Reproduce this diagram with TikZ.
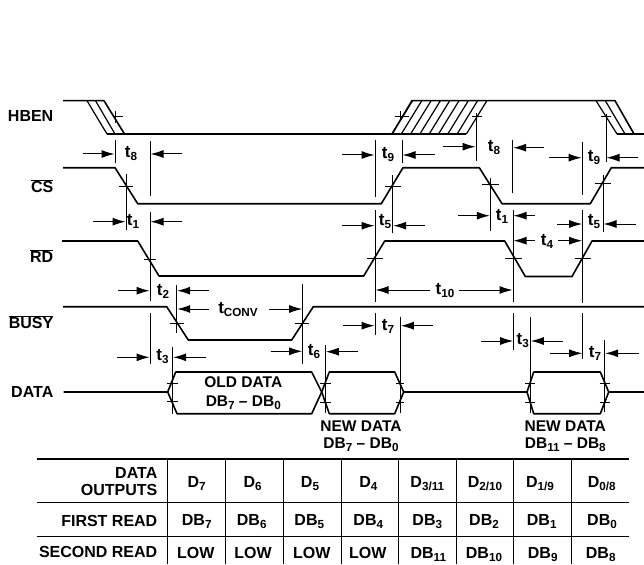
\documentclass[tikz,border=0pt]{standalone}
\usepackage{fontspec}
\setmainfont{Liberation Sans}
\usetikzlibrary{arrows.meta}
\newcommand{\lowtext}[1]{\raisebox{-3pt}{\fontsize{11.7}{12}\selectfont #1}}
\newcommand{\tname}[1]{{\fontsize{17}{18}\selectfont t}\lowtext{#1}}
\newcommand{\dbname}[1]{DB\lowtext{#1}}
\newcommand{\dname}[1]{D\lowtext{#1}}
\newcommand{\negated}[1]{$\overline{\mbox{#1}}$}
\tikzset{
	wave/.style={line width=1.6pt,line join=round},
	hatch/.style={line width=1.2pt},
	mark line/.style={line width=1pt},
	dim/.style={line width=1pt,-{Latex[length=13pt,width=8pt]}},
	txt/.style={font=\fontsize{15.5}{17}\selectfont\bfseries,inner sep=0pt},
	sig/.style={font=\fontsize{16}{17}\selectfont\bfseries,inner sep=0pt,anchor=east},
	cell/.style={font=\fontsize{16}{17}\selectfont\bfseries,inner sep=0pt,anchor=base},
	rowhead/.style={font=\fontsize{16}{17.3}\selectfont\bfseries,inner sep=0pt,anchor=east,align=right},
	tablerule/.style={line width=1.5pt}
}
\begin{document}
\begin{tikzpicture}[x=1pt,y=-1pt]
	\useasboundingbox (0,0) rectangle (644,564);
	% signal names
	\node[sig] (hben) at (53.5,116) {HBEN};
	\node[sig] (cs) at (53.5,186) {\negated{CS}};
	\node[sig] (rd) at (53.5,256) {\negated{RD}};
	\node[sig] (busy) at (53.5,322) {\negated{BUSY}};
	\node[sig] (data) at (53.5,392) {DATA};
	%%%%%%%% waves
	\draw[wave] (63,100.7)--(104,100.7)--(124.5,134)--(466,134);
	\draw[wave] (107,134)--(124.5,134);
	\draw[wave] (392,134)--(412,100.7)--(615,100.7)--(634,134)--(644,134);
	\draw[wave] (63,167.7)--(115,167.7)--(137.7,203.7)--(381.3,203.7)--(403,167.7)--(479.3,167.7)--(502,203.7)--(590.3,203.7)--(611.3,167.7)--(644,167.7);
	\draw[wave] (62,241)--(137.7,241)--(159,276)--(363.7,276)--(384.7,241)--(504.7,241)--(525.3,276.5)--(572,276.5)--(592,241)--(644,241);
	\draw[wave] (63,306.7)--(166.7,306.7)--(188.3,340)--(291.7,340)--(313.3,306.7)--(644,306.7);
	\draw[wave] (63.7,392)--(167.7,392)--(175.7,372)--(311.7,372)--(321.7,392)--(311.7,413.7)--(177,413.7)--(167.7,392);
	\draw[wave] (321.7,392)--(329.3,372)--(394.7,372)--(403.7,392)--(394.7,413.7)--(329.3,413.7)--(321.7,392);
	\draw[wave] (403.7,392)--(527,392)--(533.7,372)--(600.3,372)--(608.7,392)--(600.3,413.7)--(533.7,413.7)--(527,392);
	\draw[wave] (608.7,392)--(644,392);
	%%%%%%%% hatching
	\foreach \a/\b in {87/107,95.5/115}
		\draw[hatch] (\a,100.7)--(\b,134);
	\foreach \a in {392,401.3,...,466.5}
		\draw[hatch] (\a,134)--(\a+20.5,100.7);
	\foreach \a/\b in {596/617,605.3/625}
		\draw[hatch] (\a,100.7)--(\b,134);
	\draw[wave] (617,134)--(644,134);
	%%%%%%%% vertical marks
	\foreach \x/\a/\b in {115/140/163,150/141/195.7,126/174/230,150/211.7/301,375/140/196.7,402/140/163,
		476/113/161,512.7/140/193,582/141.7/195,606/114/162,375/210/301.7,392.7/175/233,490.3/178/230.7,
		513/210/302,582.7/210/303,603/175/231.7,176.7/285/333,302.7/284/364,150/312.7/364.3,172.7/347/414,
		325.3/345/413,375/313.3/335,400.3/316.7/413,513.7/313.3/350,530.3/317/413,582.7/312.7/359.3,604.7/340/411.7,
		115/111/123,400.3/111/121}
		\draw[mark line] (\x,\a)--(\x,\b);
	\foreach \x/\y/\w in {126/186.5/7,392.7/186/8,490.3/184/8.5,603/183/8,150/259/6,375.3/258/8,513.7/258.5/8.5,582.7/258.7/8,
		176.7/323.3/7,301.7/323.3/7,172.7/383/5.5,172.7/401/5.5,325.3/383/5.5,325.3/402/5.5,400.3/383/4,400.3/402/4,
		530.3/383/5,530.3/402/5,604.7/383/5,604.7/402/5,477/116.5/5,606/116.5/5,118.2/117/4.5,402/116.5/7.3}
		\draw[mark line] (\x-\w,\y)--(\x+\w,\y);
	%%%%%%%% timing arrows
	\foreach \x/\y/\e in {83/154/114.5,182/154/150.5,93/221.7/125.5,182/221.7/150.5,342/155/374.5,434.7/155/402.5,443/146.7/475.5,544/147.7/513.2,
		549/157.7/581.5,637.7/157.7/606.5,342/225.7/374.5,425/225.7/393.2,458/215.7/489.8,535/215.7/513.5,535/240.7/513.5,558/240.7/582.2,
		557/224/582.2,636/224/603.5,117.7/290.7/149.5,208.7/290.7/177.2,209/309/177.2,269/309/302.2,116.7/357.3/149.5,205.7/357.3/173.2,
		270.7/351.3/302.2,358/351.7/325.8,343/325.7/374.5,432.7/325.7/400.8,481/341/513.2,562.7/341/530.8,549.7/353.3/582.2,638.7/353.3/605.2,
		430/290/375.5,459/290/512.5}
		\draw[dim] (\x,\y)--(\e,\y);
	%%%%%%%% timing names
	\foreach \x/\y/\t/\n in {131/154/8/t8a,133/221/1/t1a,163/291/2/t2,162.5/357/3/t3,314/352/6/t6,388/155/9/t9a,385/222/5/t5a,
		388/326/7/t7a,494/148/8/t8b,502/216/1/t1b,547/241/4/t4,522.7/341/3/t3b,594/158/9/t9b,594/222/5/t5b,595/353/7/t7b,445/291/10/t10}
		\node[txt] (\n) at (\x,\y) {\tname{\t}};
	\node[txt] (tconv) at (238,310) {\tname{CONV}};
	%%%%%%%% data labels
	\node[txt,align=center] (old) at (243.3,393) {OLD DATA\\[1.5pt]\dbname{7} -- \dbname{0}};
	\node[txt,align=center] (newa) at (361,436) {NEW DATA\\\dbname{7} -- \dbname{0}};
	\node[txt,align=center] (newb) at (565.3,436) {NEW DATA\\\dbname{11} -- \dbname{8}};
	%%%%%%%% table
	\draw[tablerule] (36.7,459)--(629.3,459) (36.7,502.3)--(629.3,502.3) (36.7,536.7)--(629.3,536.7);
	\foreach \x in {167.5,225.5,283.5,341.5,398.5,456.5,513.5,571.5}
		\draw[tablerule] (\x,459)--(\x,564);
	\node[rowhead] (outputs) at (157.5,481.5) {DATA\\OUTPUTS};
	\node[rowhead] (first) at (157.5,520.5) {FIRST READ};
	\node[rowhead] (second) at (157.5,552) {SECOND READ};
	\foreach \x/\s [count=\i] in {196.7/7,252.7/6,310/5,368.3/4,427.3/{3/11},485/{2/10},540/{1/9},601.7/{0/8}}
		\node[cell] (out\i) at (\x,487.5) {\dname{\s}};
	\foreach \x/\s [count=\i] in {196.7/7,251.7/6,309.3/5,368.3/4,427.3/3,484/2,541.7/1,602/0}
		\node[cell] (fst\i) at (\x,525) {\dbname{\s}};
	\foreach \x/\s [count=\i] in {195.7/LOW,253/LOW,311.7/LOW,367.7/LOW,428.3/\dbname{11},484/\dbname{10},542.7/\dbname{9},600.7/\dbname{8}}
		\node[cell] (snd\i) at (\x,558) {\s};
\end{tikzpicture}
\end{document}
